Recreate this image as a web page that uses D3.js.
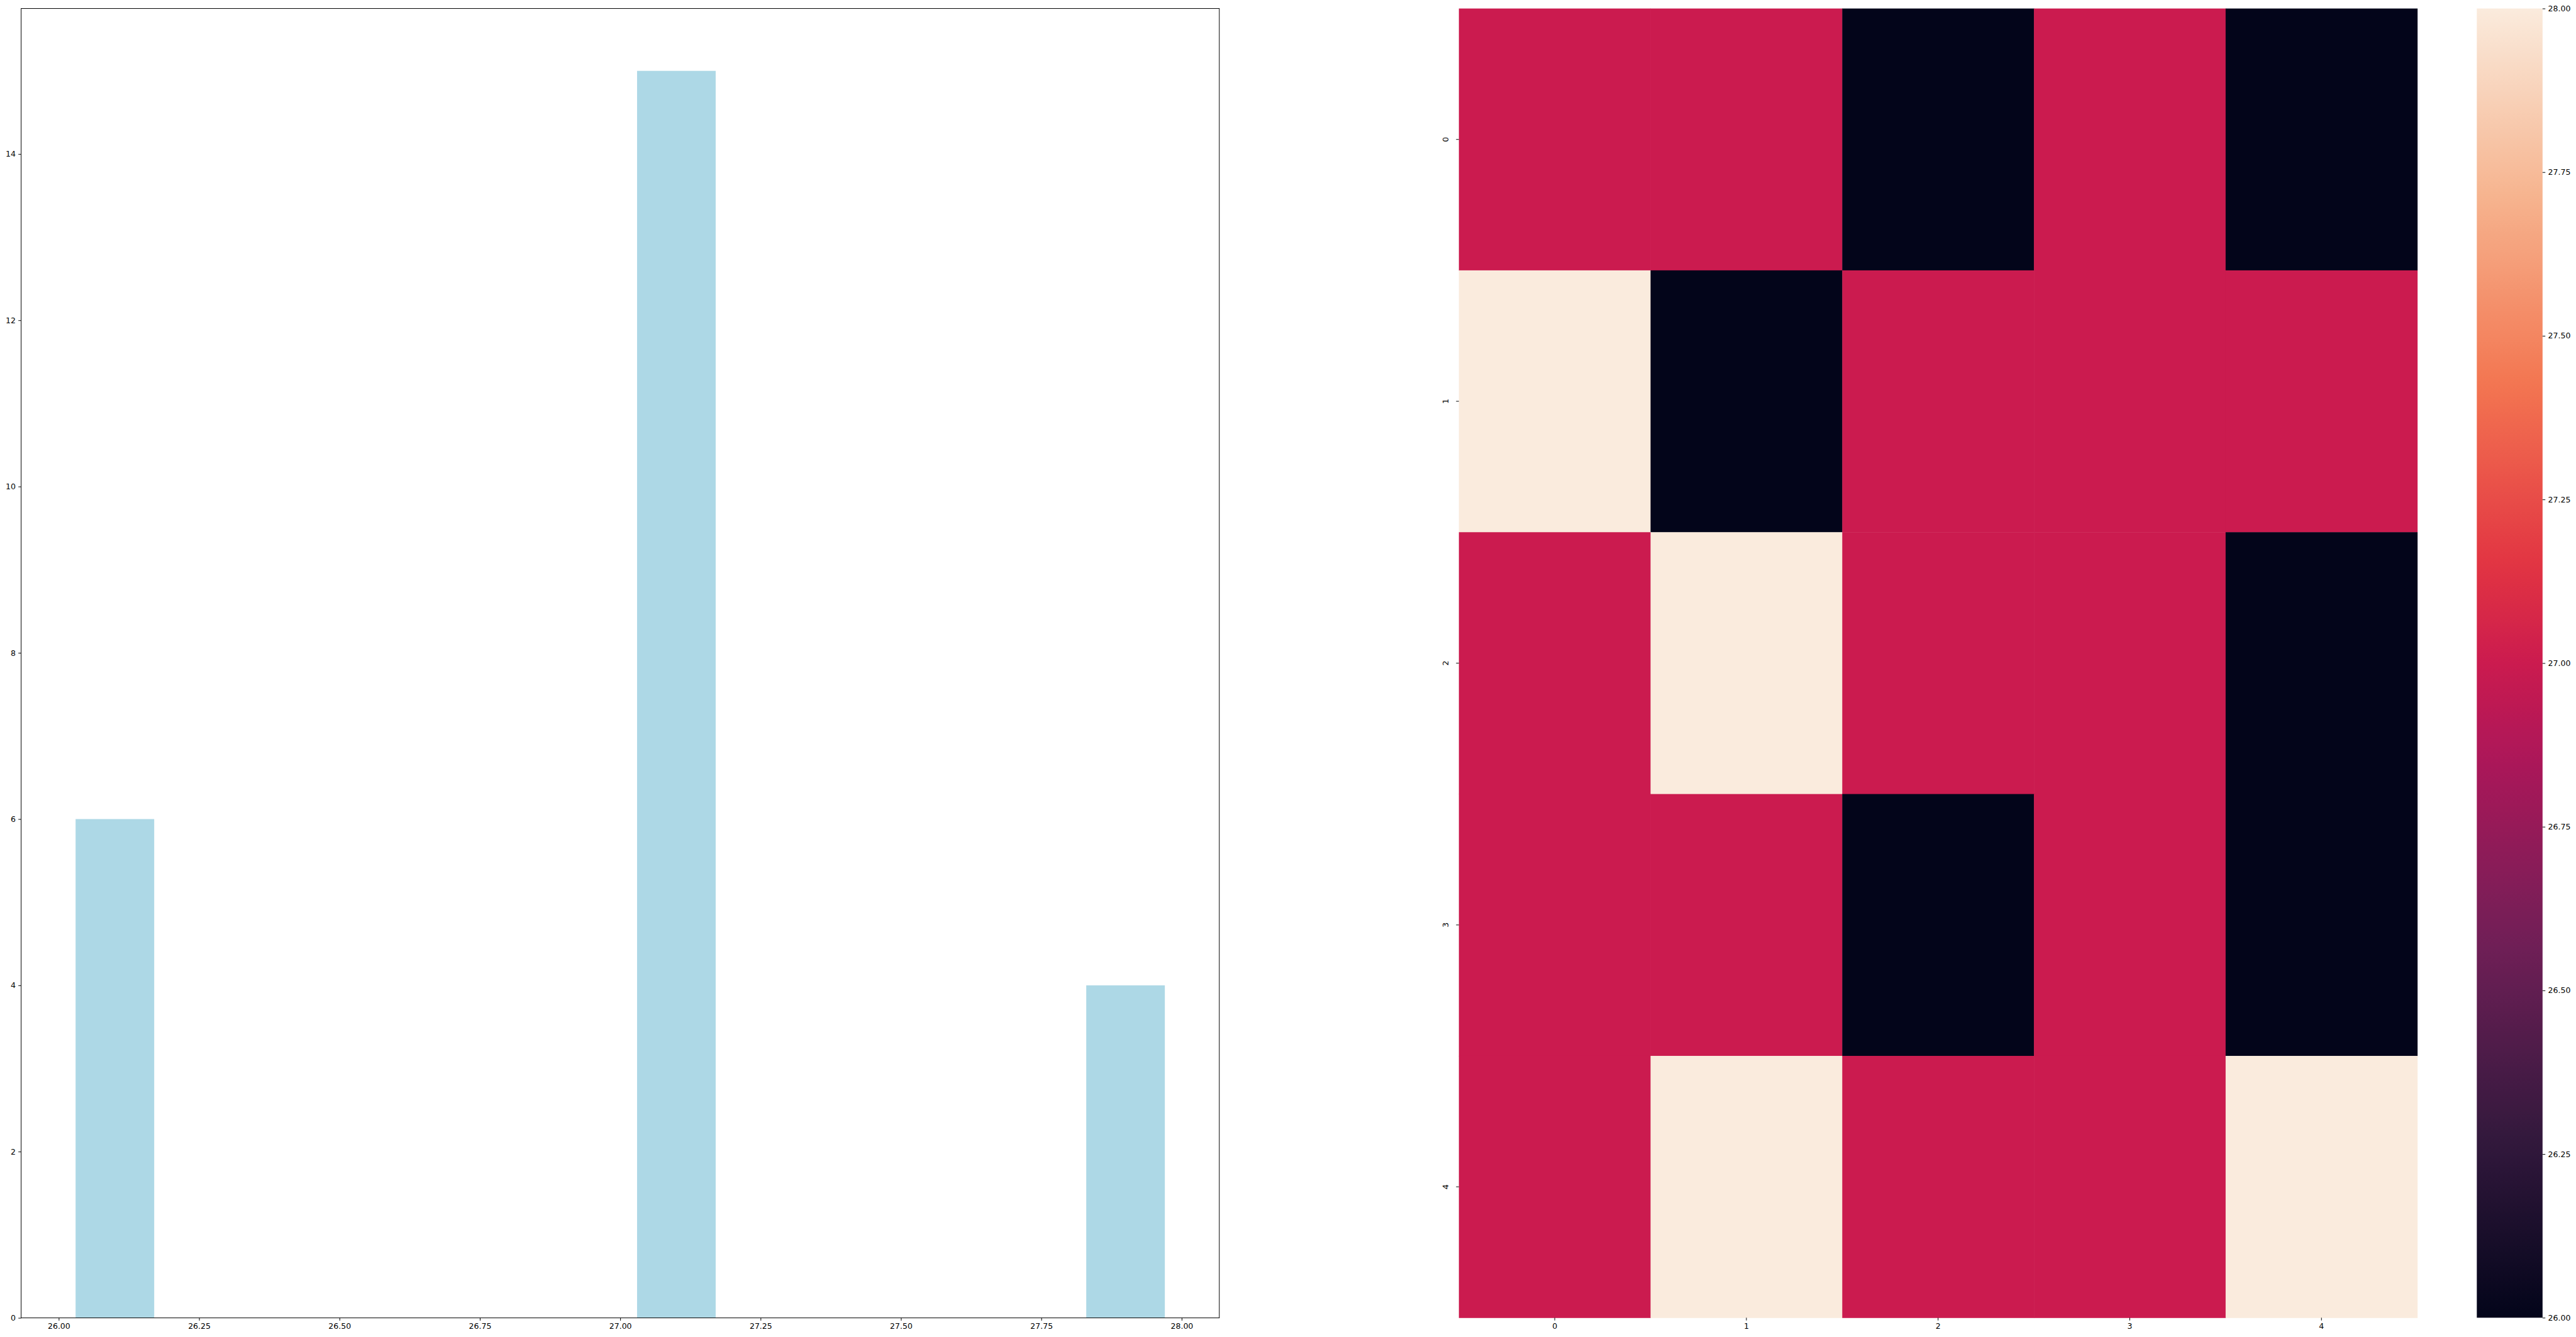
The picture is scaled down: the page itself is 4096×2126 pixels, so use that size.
<!DOCTYPE html>
<html><head><meta charset="utf-8">
<script src="https://cdn.jsdelivr.net/npm/d3@7"></script>
<style>
html,body{margin:0;padding:0;background:#fff;overflow:hidden}
text{font-family:"DejaVu Sans",sans-serif}
</style></head>
<body>
<script>
// ---------- data ----------
const binEdges = [26.0, 26.2, 26.4, 26.6, 26.8, 27.0, 27.2, 27.4, 27.6, 27.8, 28.0];
const binCounts = [6, 0, 0, 0, 0, 15, 0, 0, 0, 4];
const histXTicks = [26.00, 26.25, 26.50, 26.75, 27.00, 27.25, 27.50, 27.75, 28.00];
const histYTicks = [0, 2, 4, 6, 8, 10, 12, 14];
const heatRows = ["0", "1", "2", "3", "4"];
const heatCols = ["0", "1", "2", "3", "4"];
const heatRow0 = [27, 27, 26, 27, 26];
const heatRow1 = [28, 26, 27, 27, 27];
const heatRow2 = [27, 28, 27, 27, 26];
const heatRow3 = [27, 27, 26, 27, 26];
const heatRow4 = [27, 28, 27, 27, 28];
const heatValues = [heatRow0, heatRow1, heatRow2, heatRow3, heatRow4];
const cbarTicks = [26.00, 26.25, 26.50, 26.75, 27.00, 27.25, 27.50, 27.75, 28.00];
const rocketStops = ["#03051A", "#35193E", "#701F57", "#AD1759", "#CB1B4F", "#E13342", "#F37651", "#F6B48F", "#FAEBDD"];
const rocketPos = [0, 1/7, 2/7, 3/7, 0.5, 4/7, 5/7, 6/7, 1];

// ---------- layout (reference pixel units, scaled by viewBox) ----------
const W = 4545, H = 2359;
const FS = 13.9, TICK = 4.86, PAD = 4.86, LW = 1.1;
const svg = d3.select("body").append("svg")
  .attr("width", 4096).attr("height", 2126)
  .attr("viewBox", `0 0 ${W} ${H}`);

const rocket = d3.scaleLinear().domain(rocketPos).range(rocketStops).interpolate(d3.interpolateRgb);

// ---------- histogram ----------
const hx0 = 37.3, hx1 = 2151.3, hy0 = 15, hy1 = 2325.3;
const rwidth = 0.7;
const bars = binCounts.map((c, i) => {
  const w = binEdges[i+1] - binEdges[i];
  const l = binEdges[i] + w*(1-rwidth)/2;
  return {l, r: l + w*rwidth, c};
});
const dMin = d3.min(bars, d => d.l), dMax = d3.max(bars, d => d.r);
const mX = (dMax - dMin) * 0.05;
const x = d3.scaleLinear().domain([dMin - mX, dMax + mX]).range([hx0, hx1]);
const yMax = d3.max(binCounts) * 1.05;
const y = d3.scaleLinear().domain([0, yMax]).range([hy1, hy0]);

const gh = svg.append("g");
gh.selectAll("rect.bar").data(bars.filter(d => d.c > 0)).enter().append("rect")
  .attr("class", "bar")
  .attr("x", d => x(d.l)).attr("width", d => x(d.r) - x(d.l))
  .attr("y", d => y(d.c)).attr("height", d => y(0) - y(d.c))
  .attr("fill", "#ADD8E6");

const xAxis = gh.append("g").attr("transform", `translate(0,${hy1})`)
  .call(d3.axisBottom(x).tickValues(histXTicks).tickFormat(d3.format(".2f"))
    .tickSizeInner(TICK).tickSizeOuter(0).tickPadding(PAD));
const yAxis = gh.append("g").attr("transform", `translate(${hx0},0)`)
  .call(d3.axisLeft(y).tickValues(histYTicks).tickFormat(d3.format("d"))
    .tickSizeInner(TICK).tickSizeOuter(0).tickPadding(PAD));
[xAxis, yAxis].forEach(a => {
  a.select(".domain").remove();
  a.selectAll("line").attr("stroke", "#000").attr("stroke-width", LW);
  a.selectAll("text").attr("font-size", FS).attr("fill", "#000").attr("font-family", "DejaVu Sans");
});
gh.append("rect").attr("x", hx0).attr("y", hy0).attr("width", hx1 - hx0).attr("height", hy1 - hy0)
  .attr("fill", "none").attr("stroke", "#000").attr("stroke-width", LW);

// ---------- heatmap ----------
const mx0 = 2574, mx1 = 4265, my0 = 15, my1 = 2325;
const cx = d3.scaleBand().domain(heatCols).range([mx0, mx1]);
const cy = d3.scaleBand().domain(heatRows).range([my0, my1]);
const vmin = d3.min(heatValues.flat()), vmax = d3.max(heatValues.flat());
const norm = d3.scaleLinear().domain([vmin, vmax]).range([0, 1]);
const gm = svg.append("g");
const cells = [];
heatValues.forEach((row, i) => row.forEach((v, j) => cells.push({r: heatRows[i], c: heatCols[j], v})));
gm.selectAll("rect.cell").data(cells).enter().append("rect")
  .attr("class", "cell")
  .attr("x", d => cx(d.c)).attr("y", d => cy(d.r))
  .attr("width", cx.bandwidth() + 0.5).attr("height", cy.bandwidth() + 0.5)
  .attr("fill", d => rocket(norm(d.v)));

const hxA = gm.append("g").attr("transform", `translate(0,${my1})`)
  .call(d3.axisBottom(cx).tickSizeInner(TICK).tickSizeOuter(0).tickPadding(PAD));
const hyA = gm.append("g").attr("transform", `translate(${mx0},0)`)
  .call(d3.axisLeft(cy).tickSizeInner(TICK).tickSizeOuter(0).tickPadding(PAD));
[hxA, hyA].forEach(a => {
  a.select(".domain").remove();
  a.selectAll("line").attr("stroke", "#000").attr("stroke-width", LW);
  a.selectAll("text").attr("font-size", FS).attr("fill", "#000").attr("font-family", "DejaVu Sans");
});
hyA.selectAll(".tick text")
  .attr("x", null).attr("dy", null)
  .attr("text-anchor", "middle")
  .attr("transform", `translate(${-(TICK + PAD + 13.5)},0) rotate(-90)`)
  .attr("dy", "0.35em");

// ---------- colorbar ----------
const bx0 = 4370, bx1 = 4486, by0 = 15, by1 = 2325;
const cb = d3.scaleLinear().domain([vmin, vmax]).range([by1, by0]);
const defs = svg.append("defs");
const grad = defs.append("linearGradient").attr("id", "rocketGrad")
  .attr("x1", 0).attr("y1", 1).attr("x2", 0).attr("y2", 0);
d3.range(0, 1.0001, 1/64).forEach(t => {
  grad.append("stop").attr("offset", t).attr("stop-color", rocket(t));
});
const gc = svg.append("g");
gc.append("rect").attr("x", bx0).attr("y", by0).attr("width", bx1 - bx0).attr("height", by1 - by0)
  .attr("fill", "url(#rocketGrad)");
const cbA = gc.append("g").attr("transform", `translate(${bx1},0)`)
  .call(d3.axisRight(cb).tickValues(cbarTicks).tickFormat(d3.format(".2f"))
    .tickSizeInner(TICK).tickSizeOuter(0).tickPadding(PAD));
cbA.select(".domain").remove();
cbA.selectAll("line").attr("stroke", "#000").attr("stroke-width", LW);
cbA.selectAll("text").attr("font-size", FS).attr("fill", "#000").attr("font-family", "DejaVu Sans");
</script>
</body></html>
